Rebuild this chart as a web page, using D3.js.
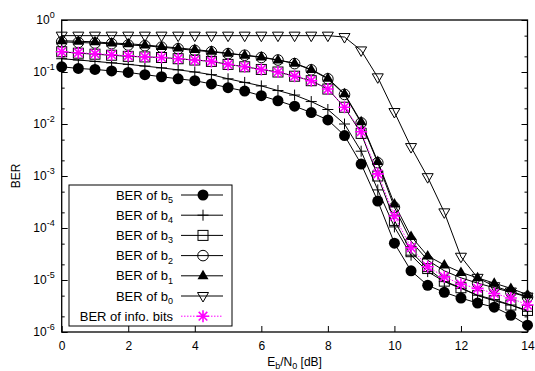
<!DOCTYPE html>
<html lang="en">
<head>
<meta charset="UTF-8">
<title>BER vs Eb/N0</title>
<style>
  body { margin: 0; background: #fff; }
  svg { display: block; font-family: 'Liberation Sans', Arial, sans-serif; }
  .tick line { stroke: #000; }
  .tick text { font-size: 12px; fill: #000; }
</style>
<script src="https://d3js.org/d3.v7.min.js"></script>
</head>
<body>
<svg id="chart"></svg>
<script>
// Eb/N0 points in dB
const snr = [0, 0.5, 1, 1.5, 2, 2.5, 3, 3.5, 4, 4.5, 5, 5.5, 6, 6.5, 7, 7.5, 8, 8.5, 9, 9.5, 10, 10.5, 11, 11.5, 12, 12.5, 13, 13.5, 14];

const berB5 = [0.126, 0.117, 0.112, 0.105, 0.098, 0.089, 0.081, 0.074, 0.068, 0.059, 0.050, 0.043, 0.035, 0.028, 0.022, 0.0166, 0.012, 0.006, 0.0017, 3.3e-4, 5.1e-5, 1.5e-5, 7.9e-6, 5.8e-6, 4.5e-6, 3.6e-6, 3.0e-6, 2.1e-6, 1.35e-6];
const berB4 = [0.18, 0.17, 0.16, 0.15, 0.14, 0.13, 0.12, 0.11, 0.10, 0.089, 0.074, 0.063, 0.054, 0.044, 0.036, 0.027, 0.019, 0.010, 0.003, 5.4e-4, 1.05e-4, 3.0e-5, 1.45e-5, 9.3e-6, 6.9e-6, 5.1e-6, 4.2e-6, 3.3e-6, 2.5e-6];
const berB3 = [0.245, 0.23, 0.22, 0.21, 0.20, 0.195, 0.19, 0.18, 0.17, 0.16, 0.14, 0.126, 0.112, 0.10, 0.083, 0.068, 0.047, 0.021, 0.0066, 0.001, 1.4e-4, 3.5e-5, 1.66e-5, 9.5e-6, 7.1e-6, 5.0e-6, 4.0e-6, 3.3e-6, 2.6e-6];
const berB2 = [0.38, 0.37, 0.36, 0.35, 0.33, 0.32, 0.30, 0.28, 0.26, 0.245, 0.225, 0.21, 0.19, 0.17, 0.145, 0.11, 0.074, 0.037, 0.0105, 0.0018, 2.5e-4, 5.6e-5, 2.4e-5, 1.5e-5, 1.1e-5, 8.7e-6, 7.1e-6, 5.8e-6, 4.7e-6];
const berB1 = [0.40, 0.39, 0.38, 0.36, 0.35, 0.33, 0.31, 0.29, 0.27, 0.25, 0.23, 0.21, 0.195, 0.17, 0.148, 0.112, 0.076, 0.038, 0.011, 0.0019, 2.9e-4, 6.9e-5, 2.9e-5, 1.95e-5, 1.4e-5, 1.1e-5, 8.7e-6, 6.9e-6, 5.2e-6];
const berB0 = [0.5, 0.5, 0.5, 0.5, 0.5, 0.5, 0.5, 0.5, 0.5, 0.5, 0.5, 0.5, 0.5, 0.5, 0.5, 0.5, 0.5, 0.47, 0.26, 0.079, 0.017, 0.0036, 9.5e-4, 2.0e-4, 2.8e-5, 1.1e-5, 7.6e-6, 6.0e-6, 4.8e-6];
const berInfo = [0.245, 0.235, 0.225, 0.215, 0.205, 0.195, 0.19, 0.18, 0.17, 0.16, 0.14, 0.126, 0.112, 0.10, 0.083, 0.068, 0.047, 0.021, 0.0071, 0.0011, 1.7e-4, 4.2e-5, 1.8e-5, 1.15e-5, 8.3e-6, 6.9e-6, 5.5e-6, 4.5e-6, 3.3e-6];

const legendText = ["BER of b", "BER of b", "BER of b", "BER of b", "BER of b", "BER of b", "BER of info. bits"];
const legendSub = ["5", "4", "3", "2", "1", "0", ""];

const xTicks = [0, 2, 4, 6, 8, 10, 12, 14];
const yTicks = [1, 1e-1, 1e-2, 1e-3, 1e-4, 1e-5, 1e-6];
const yTickExp = ["0", "-1", "-2", "-3", "-4", "-5", "-6"];
const yMinor = [5e-1, 2e-1, 5e-2, 2e-2, 5e-3, 2e-3, 5e-4, 2e-4, 5e-5, 2e-5, 5e-6, 2e-6];

const series = [
  { values: berB5, marker: "circleFilled", color: "#000" },
  { values: berB4, marker: "plus", color: "#000" },
  { values: berB3, marker: "square", color: "#000" },
  { values: berB2, marker: "circleOpen", color: "#000" },
  { values: berB1, marker: "triUp", color: "#000" },
  { values: berB0, marker: "triDown", color: "#000" },
  { values: berInfo, marker: "star", color: "#ff00ff", dash: "1.5,1.5" }
];

const W = 535, H = 371;
const mLeft = 61.7, mRight = 527.5, mTop = 20, mBottom = 332;

const svg = d3.select("#chart").attr("width", W).attr("height", H);

const x = d3.scaleLinear().domain([0, 14]).range([mLeft, mRight]);
const y = d3.scaleLog().domain([1e-6, 1]).range([mBottom, mTop]);

// axes
const gx = svg.append("g").attr("transform", `translate(0,${mBottom})`)
  .call(d3.axisBottom(x).tickValues(xTicks).tickSizeInner(-6).tickSizeOuter(0).tickPadding(9).tickFormat(d3.format("d")));
gx.select(".domain").remove();

const gy = svg.append("g").attr("transform", `translate(${mLeft},0)`)
  .call(d3.axisLeft(y).tickValues(yTicks).tickSizeInner(-6).tickSizeOuter(0).tickPadding(7).tickFormat(() => ""));
gy.select(".domain").remove();
gy.selectAll(".tick text").attr("font-size", "13px").each(function(d, i) {
  const t = d3.select(this);
  t.append("tspan").text("10");
  t.append("tspan").attr("dy", -6).attr("font-size", "9px").text(yTickExp[i]);
});

const gyMinor = svg.append("g").attr("transform", `translate(${mLeft},0)`)
  .call(d3.axisLeft(y).tickValues(yMinor).tickSizeInner(-3).tickSizeOuter(0).tickFormat(() => ""));
gyMinor.select(".domain").remove();

const gyr = svg.append("g").attr("transform", `translate(${mRight},0)`)
  .call(d3.axisRight(y).tickValues(yTicks).tickSizeInner(-6).tickSizeOuter(0).tickFormat(() => ""));
gyr.select(".domain").remove();
const gyrMinor = svg.append("g").attr("transform", `translate(${mRight},0)`)
  .call(d3.axisRight(y).tickValues(yMinor).tickSizeInner(-3).tickSizeOuter(0).tickFormat(() => ""));
gyrMinor.select(".domain").remove();

// plot border
svg.append("rect")
  .attr("x", mLeft).attr("y", mTop)
  .attr("width", mRight - mLeft).attr("height", mBottom - mTop)
  .attr("fill", "none").attr("stroke", "#000").attr("stroke-width", 1.3);

// axis titles
const xt = svg.append("text")
  .attr("x", (mLeft + mRight) / 2).attr("y", 366)
  .attr("text-anchor", "middle").attr("font-size", "12px");
xt.append("tspan").text("E");
xt.append("tspan").attr("dy", 3).attr("font-size", "9px").text("b");
xt.append("tspan").attr("dy", -3).text("/N");
xt.append("tspan").attr("dy", 3).attr("font-size", "9px").text("0");
xt.append("tspan").attr("dy", -3).text(" [dB]");

svg.append("text")
  .attr("transform", `translate(20,${(mTop + mBottom) / 2}) rotate(-90)`)
  .attr("text-anchor", "middle").attr("font-size", "12px")
  .text("BER");

// marker shapes
function drawMarker(g, type, color) {
  if (type === "circleFilled") {
    g.append("circle").attr("r", 5.5).attr("fill", color);
  } else if (type === "circleOpen") {
    g.append("circle").attr("r", 5.3).attr("fill", "none").attr("stroke", color);
  } else if (type === "square") {
    g.append("rect").attr("x", -5).attr("y", -5).attr("width", 10).attr("height", 10)
      .attr("fill", "none").attr("stroke", color);
  } else if (type === "plus") {
    g.append("path").attr("d", "M-5.5,0H5.5M0,-5.5V5.5").attr("stroke", color).attr("fill", "none");
  } else if (type === "triUp") {
    g.append("path").attr("d", "M0,-6L5.5,3.5L-5.5,3.5Z").attr("fill", color);
  } else if (type === "triDown") {
    g.append("path").attr("d", "M-5.5,-3.5L5.5,-3.5L0,6Z").attr("fill", "none").attr("stroke", color);
  } else if (type === "star") {
    g.append("path").attr("d", "M-6,0H6M0,-6V6M-4.3,-4.3L4.3,4.3M-4.3,4.3L4.3,-4.3")
      .attr("stroke", color).attr("stroke-width", 1.6).attr("fill", "none");
  }
}

const line = d3.line().x((d, i) => x(snr[i])).y(d => y(d));

series.forEach(s => {
  svg.append("path")
    .datum(s.values)
    .attr("d", line)
    .attr("fill", "none")
    .attr("stroke", s.color)
    .attr("stroke-width", 1)
    .attr("stroke-dasharray", s.dash || null);
  s.values.forEach((v, i) => {
    const g = svg.append("g").attr("transform", `translate(${x(snr[i])},${y(v)})`);
    drawMarker(g, s.marker, s.color);
  });
});

// legend
const lg = svg.append("g");
lg.append("rect")
  .attr("x", 69).attr("y", 185).attr("width", 163).attr("height", 141)
  .attr("fill", "#fff").attr("stroke", "#000").attr("stroke-width", 1);

series.forEach((s, i) => {
  const cy = 195 + i * 20.2;
  const t = lg.append("text")
    .attr("x", 173).attr("y", cy + 4.5)
    .attr("text-anchor", "end").attr("font-size", "13px");
  t.append("tspan").text(legendText[i]);
  if (legendSub[i]) {
    t.append("tspan").attr("dy", 3.5).attr("font-size", "9px").text(legendSub[i]);
  }
  lg.append("line")
    .attr("x1", 181).attr("x2", 223).attr("y1", cy).attr("y2", cy)
    .attr("stroke", s.color).attr("stroke-width", 1)
    .attr("stroke-dasharray", s.dash || null);
  const g = lg.append("g").attr("transform", `translate(203,${cy})`);
  drawMarker(g, s.marker, s.color);
});
</script>
</body>
</html>
